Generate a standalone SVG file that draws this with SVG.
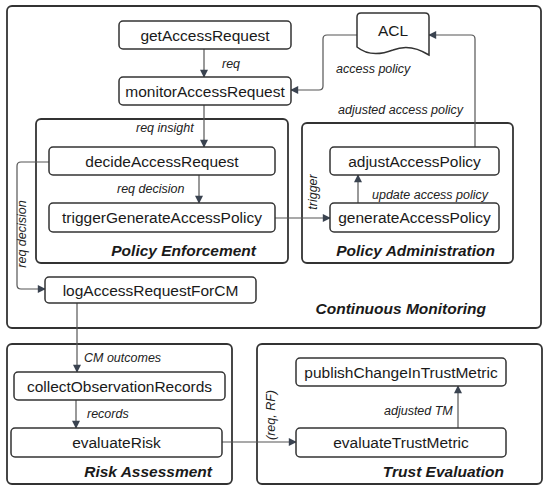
<svg xmlns="http://www.w3.org/2000/svg" width="550" height="493" viewBox="0 0 550 493">
<defs>
<marker id="ah" viewBox="0 0 10 10" refX="9" refY="5" markerWidth="10" markerHeight="8" markerUnits="userSpaceOnUse" orient="auto">
<path d="M0,0 L10,5 L0,10 Z" fill="#3a4350"/>
</marker>
<style>
.cont{fill:none;stroke:#333;stroke-width:1.8}
.node rect{fill:#fff;stroke:#333;stroke-width:1.5}
.nt{font-family:"Liberation Sans",Arial,sans-serif;font-size:15.5px;fill:#1a1a1a;text-anchor:middle}
.lbl{font-family:"Liberation Sans",Arial,sans-serif;font-size:12.5px;font-style:italic;fill:#222}
.ttl{font-family:"Liberation Sans",Arial,sans-serif;font-size:15.5px;font-style:italic;font-weight:bold;fill:#1a1a1a;text-anchor:end}
.ca{fill:none;stroke:#555;stroke-width:1.2;marker-end:url(#ah)}
</style>
</defs>
<rect width="550" height="493" fill="#fff"/>

<g id="continuous-monitoring">
<rect class="cont" x="7" y="6" width="534" height="322" rx="5"/>
<text class="ttl" x="486" y="314">Continuous Monitoring</text>
</g>
<g id="policy-enforcement">
<rect class="cont" x="36" y="119" width="252" height="144" rx="5"/>
<text class="ttl" x="256" y="256">Policy Enforcement</text>
</g>
<g id="policy-administration">
<rect class="cont" x="302" y="123" width="211" height="140" rx="5"/>
<text class="ttl" x="495" y="256">Policy Administration</text>
</g>
<g id="risk-assessment">
<rect class="cont" x="7" y="344" width="225" height="140" rx="5"/>
<text class="ttl" x="212" y="477">Risk Assessment</text>
</g>
<g id="trust-evaluation">
<rect class="cont" x="257" y="344" width="285" height="140" rx="5"/>
<text class="ttl" x="504" y="477">Trust Evaluation</text>
</g>

<g id="connectors">
<path class="ca" d="M204,49 V77"/>
<text class="lbl" x="222" y="68">req</text>
<path class="ca" d="M204,105 V147"/>
<text class="lbl" x="136" y="132">req insight</text>
<path class="ca" d="M199,175 V203"/>
<text class="lbl" x="117" y="193">req decision</text>
<path class="ca" d="M275,218 H330"/>
<text class="lbl" transform="translate(317,192) rotate(-90)" text-anchor="middle">trigger</text>
<path class="ca" d="M358,203 V175"/>
<text class="lbl" x="372" y="199">update access policy</text>
<path class="ca" d="M475,147 V39 Q475,35 471,35 H429"/>
<text class="lbl" x="338" y="114">adjusted access policy</text>
<path class="ca" d="M358,35 H327 Q323,35 323,39 V86 Q323,90 319,90 H291"/>
<text class="lbl" x="336" y="73">access policy</text>
<path class="ca" d="M49,162 H21 Q17,162 17,166 V285 Q17,289 21,289 H45"/>
<text class="lbl" transform="translate(26,234) rotate(-90)" text-anchor="middle">req decision</text>
<path class="ca" d="M77,303 V372"/>
<text class="lbl" x="84" y="362">CM outcomes</text>
<path class="ca" d="M76,400 V428"/>
<text class="lbl" x="87" y="418">records</text>
<path class="ca" d="M222,442 H296"/>
<text class="lbl" transform="translate(275,415) rotate(-90)" text-anchor="middle">(req, RF)</text>
<path class="ca" d="M458,428 V386"/>
<text class="lbl" x="384" y="415">adjusted TM</text>
</g>

<g id="acl" class="node">
<path d="M361,13 H425 Q429,13 429,17 V55 C418,48 405,45 393,50 C380,55 368,56 357,47 V17 Q357,13 361,13 Z" fill="#fff" stroke="#333" stroke-width="1.5"/>
<text class="nt" x="393" y="36">ACL</text>
</g>
<g id="getAccessRequest" class="node"><rect x="119" y="21" width="172" height="28" rx="4"/><text class="nt" x="205" y="40.5">getAccessRequest</text></g>
<g id="monitorAccessRequest" class="node"><rect x="119" y="77" width="172" height="28" rx="4"/><text class="nt" x="205" y="96.5">monitorAccessRequest</text></g>
<g id="decideAccessRequest" class="node"><rect x="49" y="147" width="226" height="28" rx="4"/><text class="nt" x="162" y="166.5">decideAccessRequest</text></g>
<g id="triggerGenerateAccessPolicy" class="node"><rect x="49" y="203" width="226" height="29" rx="4"/><text class="nt" x="162" y="223">triggerGenerateAccessPolicy</text></g>
<g id="adjustAccessPolicy" class="node"><rect x="330" y="147" width="169" height="28" rx="4"/><text class="nt" x="414.5" y="166.5">adjustAccessPolicy</text></g>
<g id="generateAccessPolicy" class="node"><rect x="330" y="203" width="169" height="29" rx="4"/><text class="nt" x="414.5" y="223">generateAccessPolicy</text></g>
<g id="logAccessRequestForCM" class="node"><rect x="45" y="277" width="211" height="26" rx="4"/><text class="nt" x="150.5" y="295.5">logAccessRequestForCM</text></g>
<g id="collectObservationRecords" class="node"><rect x="14" y="372" width="211" height="28" rx="4"/><text class="nt" x="119.5" y="391.5">collectObservationRecords</text></g>
<g id="evaluateRisk" class="node"><rect x="11" y="428" width="211" height="29" rx="4"/><text class="nt" x="116.5" y="448">evaluateRisk</text></g>
<g id="publishChangeInTrustMetric" class="node"><rect x="296" y="358" width="210" height="28" rx="4"/><text class="nt" x="401" y="377.5">publishChangeInTrustMetric</text></g>
<g id="evaluateTrustMetric" class="node"><rect x="296" y="428" width="210" height="29" rx="4"/><text class="nt" x="401" y="448">evaluateTrustMetric</text></g>
</svg>
